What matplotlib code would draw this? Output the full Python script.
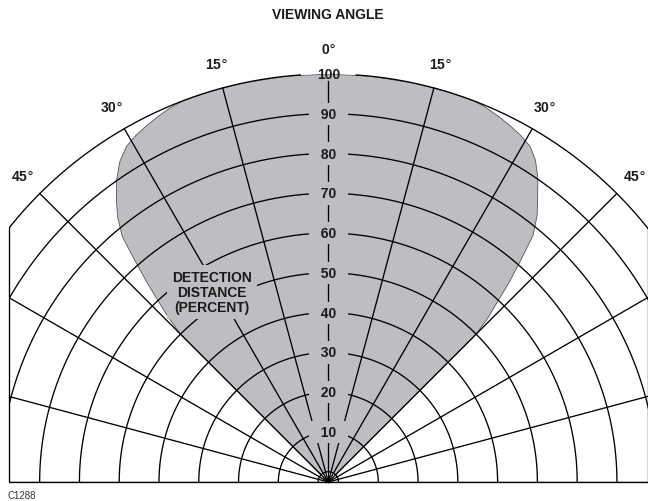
import numpy as np
import matplotlib
matplotlib.use("Agg")
import matplotlib.pyplot as plt
from matplotlib.patches import Polygon, Rectangle
from matplotlib.transforms import Bbox, TransformedBbox

plt.rcParams['font.family'] = ['Liberation Sans', 'DejaVu Sans']

# ---------------- data ----------------
ring_values = [0, 10, 20, 30, 40, 50, 60, 70, 80, 90]
outer_value = 100
scale_values = [10, 20, 30, 40, 50, 60, 70, 80, 90]
spoke_angles = [-90, -75, -60, -45, -30, -15, 0, 15, 30, 45, 60, 75, 90]
angle_label_angles = [-45, -30, -15, 0, 15, 30, 45]
angle_label_texts = ['45', '30', '15', '0', '15', '30', '45']

# detection pattern boundary (angle in degrees, detection distance in %)
shade_angles = [-45, -45, -44.2, -43.2, -42.3, -41.2, -40.0, -38.5, -37.0, -35.0,
                -33.0, -31.0, -29.0, -27.0, -25.0, -23.0, -21.0, -17, -12, -6, 0,
                6, 12, 17, 21.0, 23.0, 25.0, 27.0, 29.0, 31.0, 32.8, 34.6, 36.5,
                38.1, 39.7, 41.0, 42.2, 43.1, 44.2, 45, 45]
shade_dist = [0, 50, 55, 60, 65, 71, 78, 82.5, 85.9, 90.2,
              93.6, 95.9, 97.1, 98.0, 98.8, 99.5, 100, 100, 100, 100, 100,
              100, 100, 100, 100, 99.5, 98.8, 98.0, 97.1, 95.9, 93.6, 90.2, 85.9,
              82.5, 78, 71, 65, 60, 55, 50, 0]

# ---------------- layout / style ----------------
W, H = 648, 502
CX, CY = 328.3, 19.0          # origin in pixels (from bottom-left)
R = 408.0                      # pixel radius of the 100 % ring
ORIGIN_PX = 10.2               # pixel offset of the 0 % ring
px_per_unit = (R - ORIGIN_PX) / outer_value
rorigin = -ORIGIN_PX / px_per_unit
FRAME_L, FRAME_R = 8.5, 648.0
GRAY = '#bdbec2'
LW = 0.95
LABEL_R = 106.3

fig = plt.figure(figsize=(W / 100, H / 100), dpi=100)
ax = fig.add_axes([(CX - R) / W, (CY + R / 2 - R) / H, 2 * R / W, 2 * R / H],
                  projection='polar')
ax.set_theta_zero_location('N')
ax.set_theta_direction(-1)
ax.set_thetamin(-90)
ax.set_thetamax(90)
ax.set_rlim(0, outer_value)
ax.set_rorigin(rorigin)
ax.axis('off')

clipbox = TransformedBbox(Bbox([[FRAME_L / W, 0], [FRAME_R / W, 1]]), fig.transFigure)


def fix_clip(artist):
    artist.set_clip_path(None)
    artist.set_clip_box(clipbox)


# shaded detection pattern
fill = ax.fill(np.radians(shade_angles), shade_dist, facecolor=GRAY,
               edgecolor='#555555', lw=0.6, zorder=1)[0]

# rings
th = np.radians(np.linspace(-90, 90, 721))
for v in ring_values:
    ln, = ax.plot(th, np.full_like(th, v), color='k', lw=LW, zorder=2)
    fix_clip(ln)

# outer ring (100 %) with a gap for its label
gap = np.degrees(28 / R)
for a0, a1 in [(-90, -gap), (gap, 90)]:
    t = np.radians(np.linspace(a0, a1, 361))
    ln, = ax.plot(t, np.full_like(t, outer_value), color='k', lw=LW, zorder=2)
    fix_clip(ln)

# spokes
for a in spoke_angles:
    top = outer_value - 1.7 if a == 0 else outer_value
    ln, = ax.plot([np.radians(a)] * 2, [rorigin, top], color='k', lw=LW, zorder=2)
    fix_clip(ln)

# side frame lines, clipped to the outer circle
tt = np.radians(np.linspace(-90, 90, 721))
disk = Polygon(np.column_stack([np.r_[tt, 0.0], np.r_[np.full_like(tt, outer_value), rorigin]]),
               closed=True, transform=ax.transData)
frame = Rectangle((FRAME_L / W, CY / H), (FRAME_R - FRAME_L) / W, 1.0,
                  transform=fig.transFigure, fill=False, edgecolor='k', lw=LW)
fig.add_artist(frame)
frame.set_clip_path(disk)

# scale labels on the 0 deg axis
for v in scale_values:
    ax.text(0, v, f'  {v}  ', ha='center', va='center', fontsize=10,
            fontweight='bold', color='#1a1a1a', zorder=4,
            bbox=dict(boxstyle='square,pad=0.3', facecolor=GRAY, edgecolor='none'))
ax.text(0, outer_value, f'{outer_value}', ha='center', va='center', fontsize=10,
        fontweight='bold', color='#1a1a1a', zorder=4)

# angle labels
for a, s in zip(angle_label_angles, angle_label_texts):
    ax.text(np.radians(a), LABEL_R, s + r'$\degree$', ha='center', va='center',
            fontsize=10, fontweight='bold', color='#1a1a1a')

# axis title inside the chart
ax.text(np.radians(-31.5), 53.5, 'DETECTION\nDISTANCE\n(PERCENT)', ha='center',
        va='center', fontsize=10, fontweight='bold', color='#1a1a1a',
        linespacing=1.1, zorder=4,
        bbox=dict(boxstyle='square,pad=0.35', facecolor=GRAY, edgecolor='none'))

fig.text(327.5 / W, 1 - 15 / H, 'VIEWING ANGLE', ha='center', va='center',
         fontsize=10, fontweight='bold', color='#1a1a1a')
fig.text(8 / W, 1 - 496 / H, 'C1288', ha='left', va='center', fontsize=7,
         color='#333333')

fig.savefig('out.png', dpi=100)
